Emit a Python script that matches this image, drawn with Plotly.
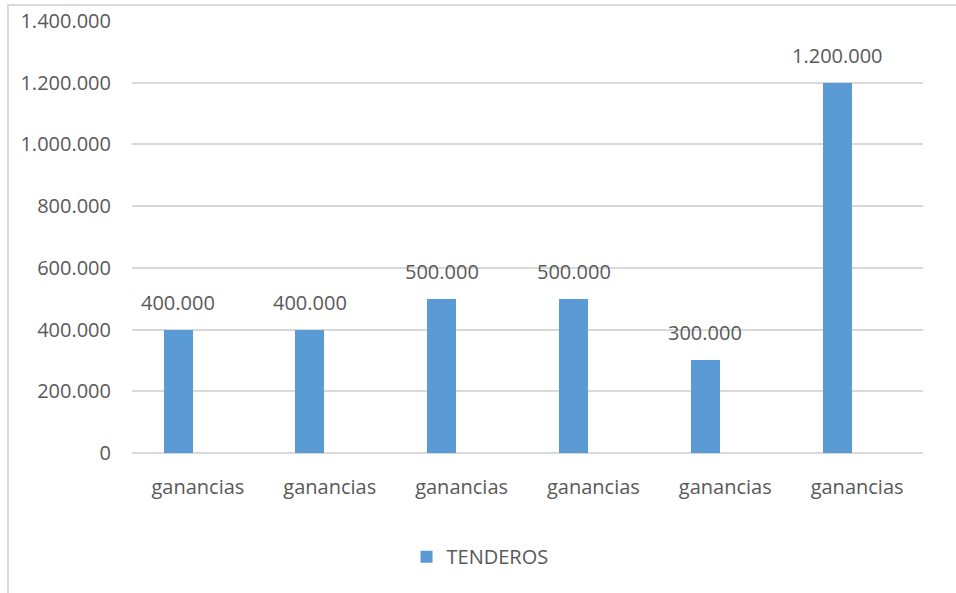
import plotly.graph_objects as go

categories = ["ganancias", "ganancias", "ganancias", "ganancias", "ganancias", "ganancias"]
values = [400000, 400000, 500000, 500000, 300000, 1200000]
series_name = "TENDEROS"
y_ticks = [0, 200000, 400000, 600000, 800000, 1000000, 1200000, 1400000]

positions = list(range(len(categories)))
FONT = "Open Sans"
GRAY = "#595959"
GRID = "#d9d9d9"
BAR_W = 0.22
BAR_OFF = -0.26

fig = go.Figure()
fig.add_trace(go.Bar(
    x=positions,
    y=values,
    name=series_name,
    marker=dict(color="#5b9bd5", line=dict(width=0)),
    width=BAR_W,
    offset=BAR_OFF,
    showlegend=True,
))

# data labels
for p, v in zip(positions, values):
    fig.add_annotation(
        x=p + BAR_OFF + BAR_W / 2, y=v, xref="x", yref="y",
        text=f"{v:,}".replace(",", "."),
        showarrow=False,
        yanchor="bottom", yshift=12,
        font=dict(family=FONT, size=20, color=GRAY),
    )

fig.update_layout(
    width=956,
    height=593,
    margin=dict(l=132, r=33, t=21, b=140, autoexpand=False),
    paper_bgcolor="white",
    plot_bgcolor="white",
    separators=",.",
    font=dict(family=FONT, size=20, color=GRAY),
    showlegend=True,
    legend=dict(
        orientation="h",
        x=0.44, xanchor="center",
        y=-0.24, yanchor="middle",
        font=dict(family=FONT, size=20, color=GRAY),
        itemwidth=30,
    ),
    xaxis=dict(
        tickmode="array",
        tickvals=positions,
        ticktext=categories,
        range=[-0.5, len(categories) - 0.5],
        showgrid=False,
        zeroline=False,
        showline=False,
        ticks="",
        automargin=False,
        ticklabelstandoff=20,
        tickfont=dict(family=FONT, size=20, color=GRAY),
    ),
    yaxis=dict(
        range=[0, 1400000],
        tickmode="array",
        tickvals=y_ticks,
        tickformat=",d",
        showgrid=True,
        gridcolor=GRID,
        gridwidth=1.5,
        zeroline=True,
        zerolinecolor=GRID,
        zerolinewidth=1.5,
        showline=False,
        ticks="",
        automargin=False,
        ticklabelstandoff=20,
        tickfont=dict(family=FONT, size=20, color=GRAY),
    ),
    bargap=0,
)

# outer chart border (partially visible, as in the reference)
fig.add_shape(
    type="rect", xref="paper", yref="paper",
    x0=(8 - 132) / 791, x1=(990 - 132) / 791,
    y0=-0.5, y1=1 + (21 - 5) / 432,
    line=dict(color=GRID, width=2),
    fillcolor="rgba(0,0,0,0)",
    layer="below",
)

fig.write_html("out.html")
